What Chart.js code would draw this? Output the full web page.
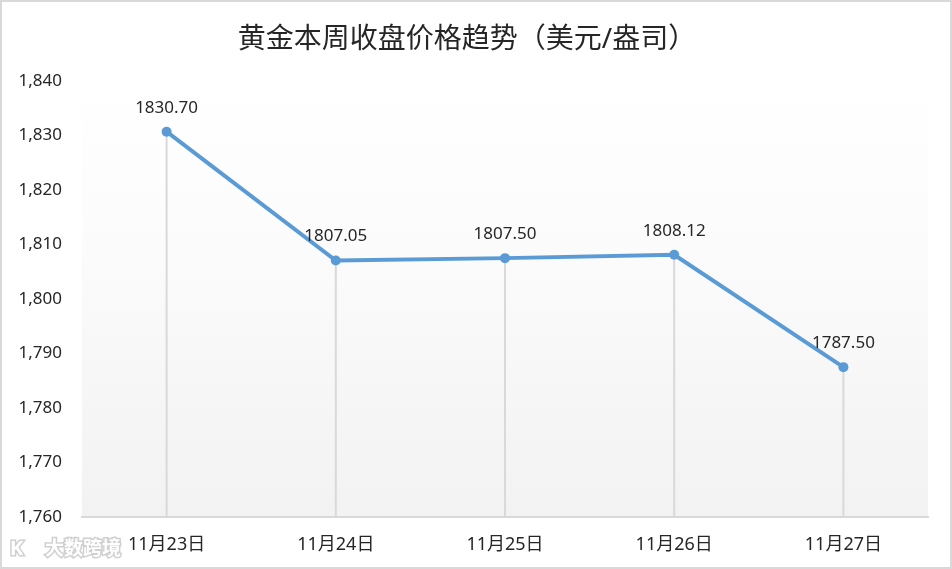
<!DOCTYPE html>
<html>
<head>
<meta charset="utf-8">
<script src="https://cdn.jsdelivr.net/npm/chart.js@4.4.0/dist/chart.umd.min.js"></script>
<style>
    html, body { margin: 0; padding: 0; background: #fff; }
    #wrap { position: relative; width: 952px; height: 569px; box-sizing: border-box; border: 2px solid #d9d9d9; }
    canvas { display: block; }
</style>
</head>
<body>
<div id="wrap"><canvas id="goldChart" width="948" height="565"></canvas></div>
<script>
const categories = ['11月23日', '11月24日', '11月25日', '11月26日', '11月27日'];
const closePrices = [1830.70, 1807.05, 1807.50, 1808.12, 1787.50];
const yTicks = [1760, 1770, 1780, 1790, 1800, 1810, 1820, 1830, 1840];
const chartTitle = '黄金本周收盘价格趋势（美元/盎司）';

const FONT = "'Noto Sans', 'Noto Sans CJK SC', sans-serif";

document.addEventListener('DOMContentLoaded', () => {
    initGoldChart();
});

function initGoldChart() {
    const ctx = document.getElementById('goldChart');
    if (!ctx) return;

    // plot area gradient + title + watermark
    const backdrop = {
        id: 'backdrop',
        beforeDraw(chart) {
            const { ctx: c, chartArea: a } = chart;
            c.save();
            const g = c.createLinearGradient(0, a.top - 10, 0, a.bottom);
            g.addColorStop(0, '#ffffff');
            g.addColorStop(0.35, '#fcfcfc');
            g.addColorStop(1, '#f2f2f2');
            c.fillStyle = g;
            c.fillRect(a.left, a.top - 10, a.right - a.left, a.bottom - a.top + 10);

            c.fillStyle = '#262626';
            c.font = '28px ' + FONT;
            c.textAlign = 'center';
            c.textBaseline = 'middle';
            c.fillText(chartTitle, 465, 38);

            c.font = 'bold 19px ' + FONT;
            c.textAlign = 'left';
            c.lineWidth = 3;
            c.strokeStyle = '#d0d0d0';
            c.strokeText('大数跨境', 43, 548);
            c.fillStyle = '#ffffff';
            c.fillText('大数跨境', 43, 548);
            c.font = 'bold 20px ' + FONT;
            c.strokeText('K', 8, 547);
            c.fillText('K', 8, 547);
            c.restore();
        }
    };

    // vertical drop lines from each point to the axis
    const dropLines = {
        id: 'dropLines',
        beforeDatasetsDraw(chart) {
            const { ctx: c, chartArea: a } = chart;
            const meta = chart.getDatasetMeta(0);
            c.save();
            c.strokeStyle = '#d9d9d9';
            c.lineWidth = 2;
            meta.data.forEach(pt => {
                c.beginPath();
                c.moveTo(pt.x, pt.y);
                c.lineTo(pt.x, a.bottom);
                c.stroke();
            });
            c.restore();
        }
    };

    const valueLabels = {
        id: 'valueLabels',
        afterDatasetsDraw(chart) {
            const c = chart.ctx;
            const meta = chart.getDatasetMeta(0);
            c.save();
            c.fillStyle = '#262626';
            c.font = '17px ' + FONT;
            c.textAlign = 'center';
            c.textBaseline = 'middle';
            meta.data.forEach((pt, i) => {
                c.fillText(closePrices[i].toFixed(2), pt.x, pt.y - 24);
            });
            c.restore();
        }
    };

    const options = {
        responsive: false,
        animation: false,
        layout: {
            padding: { left: 0, top: 79, right: 22, bottom: 0 }
        },
        plugins: {
            legend: { display: false },
            tooltip: { enabled: false }
        },
        scales: {
            y: {
                min: 1760,
                max: 1840,
                afterFit: scale => { scale.width = 80; },
                afterBuildTicks: scale => { scale.ticks = yTicks.map(v => ({ value: v })); },
                grid: { display: false, drawTicks: false },
                border: { display: false },
                ticks: {
                    color: '#262626',
                    padding: 20,
                    font: { family: FONT, size: 17 },
                    callback: v => v.toLocaleString('en-US')
                }
            },
            x: {
                offset: true,
                afterFit: scale => { scale.height = 50; },
                grid: { display: false, drawTicks: false, offset: true },
                border: { display: true, color: '#d9d9d9', width: 2 },
                ticks: {
                    color: '#262626',
                    padding: 17,
                    maxRotation: 0,
                    font: { family: FONT, size: 18 }
                }
            }
        }
    };

    new Chart(ctx, {
        type: 'line',
        data: {
            labels: categories,
            datasets: [{
                data: closePrices,
                borderColor: '#5b9bd5',
                backgroundColor: '#5b9bd5',
                borderWidth: 4,
                pointRadius: 5,
                pointBorderWidth: 0,
                tension: 0,
                clip: false
            }]
        },
        options: options,
        plugins: [backdrop, dropLines, valueLabels]
    });
}
</script>
</body>
</html>
